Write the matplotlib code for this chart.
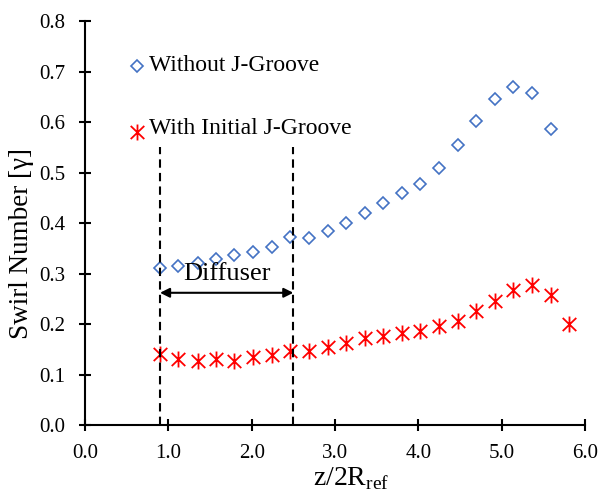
import matplotlib
matplotlib.use("Agg")
import matplotlib.pyplot as plt
from matplotlib.ticker import MultipleLocator, FormatStrFormatter
from matplotlib.path import Path

plt.rcParams['font.family'] = ['Liberation Serif', 'DejaVu Serif']
plt.rcParams['mathtext.fontset'] = 'custom'
plt.rcParams['mathtext.rm'] = 'Liberation Serif'

# Data
x_pos = [0.90, 1.12, 1.35, 1.57, 1.79, 2.02, 2.24, 2.46, 2.69, 2.91, 3.13, 3.36,
         3.58, 3.80, 4.02, 4.25, 4.47, 4.69, 4.92, 5.14, 5.36, 5.59, 5.81]
without_groove = [0.312, 0.316, 0.322, 0.329, 0.336, 0.343, 0.352, 0.373, 0.371,
                  0.384, 0.401, 0.420, 0.440, 0.459, 0.478, 0.509, 0.554, 0.602,
                  0.646, 0.670, 0.657, 0.587]
with_groove = [0.140, 0.130, 0.127, 0.131, 0.127, 0.135, 0.138, 0.147, 0.147,
               0.154, 0.163, 0.172, 0.177, 0.182, 0.187, 0.196, 0.207, 0.226,
               0.246, 0.268, 0.277, 0.257, 0.201]
diffuser_start = 0.9
diffuser_end = 2.5

blue = '#4472C4'
red = '#FF0000'

# Excel-style asterisk: vertical bar plus an X
star = Path([(0, -1), (0, 1), (-0.85, -0.82), (0.85, 0.82), (-0.85, 0.82), (0.85, -0.82)],
            [Path.MOVETO, Path.LINETO, Path.MOVETO, Path.LINETO, Path.MOVETO, Path.LINETO])

fig = plt.figure(figsize=(6.02, 4.95), dpi=100)
ax = fig.add_axes([0.1412, 0.1414, 0.8306, 0.8156])

dkw = dict(linestyle='none', marker='D', markersize=6.6, markerfacecolor='none',
           markeredgecolor=blue, markeredgewidth=1.2)
skw = dict(linestyle='none', marker=star, markersize=11.5, markerfacecolor='none',
           markeredgecolor=red, markeredgewidth=1.3)

ax.plot(x_pos[:len(without_groove)], without_groove, **dkw)
ax.plot(x_pos[:len(with_groove)], with_groove, **skw)

# Diffuser lines
for xv in (diffuser_start, diffuser_end):
    ax.plot([xv, xv], [0, 0.55], color='black', linestyle=(0, (4, 2.5)), linewidth=1.5)
ax.annotate('', xy=(diffuser_start, 0.262), xytext=(diffuser_end, 0.262),
            arrowprops=dict(arrowstyle='<|-|>', color='black', lw=1.5,
                            mutation_scale=14, shrinkA=0, shrinkB=0))
ax.text((diffuser_start + diffuser_end) / 2, 0.300, 'Diffuser', ha='center', va='center',
        fontsize=19)

# Legend (manual, as in the reference)
ax.plot([0.62], [0.712], **dkw)
ax.text(0.77, 0.712, 'Without J-Groove', ha='left', va='center', fontsize=17)
ax.plot([0.62], [0.58], **skw)
ax.text(0.77, 0.588, 'With Initial J-Groove', ha='left', va='center', fontsize=17)

ax.set_xlim(0, 6)
ax.set_ylim(0, 0.8)
ax.xaxis.set_major_locator(MultipleLocator(1.0))
ax.yaxis.set_major_locator(MultipleLocator(0.1))
ax.xaxis.set_major_formatter(FormatStrFormatter('%.1f'))
ax.yaxis.set_major_formatter(FormatStrFormatter('%.1f'))
ax.tick_params(direction='inout', length=8, width=1.5, labelsize=15, colors='black')
ax.tick_params(axis='y', pad=10)
ax.tick_params(axis='x', pad=10)
for s in ('top', 'right'):
    ax.spines[s].set_visible(False)
for s in ('left', 'bottom'):
    ax.spines[s].set_linewidth(1.5)
ax.set_xlabel(r'z/2R$_{\mathregular{ref}}$', fontsize=20)
ax.xaxis.set_label_coords(0.533, -0.099, transform=ax.transAxes)
ax.xaxis.label.set_va('top')
ax.set_ylabel('Swirl Number [γ]', fontsize=19.5)
ax.yaxis.set_label_coords(-0.102, 0.45, transform=ax.transAxes)

fig.savefig('out.png', dpi=100)
